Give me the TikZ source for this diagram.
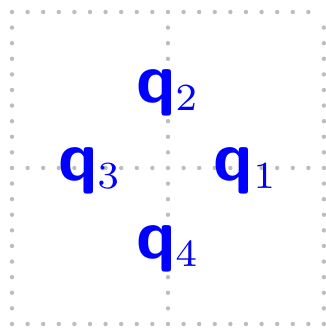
\documentclass[tikz,border=0pt]{standalone}
\usepackage{amsmath}
\usepackage{xcolor}
\usepackage{tikz}
\definecolor{C_LBL} {HTML}{0000FF}
\definecolor{C_GRID}{HTML}{BDBDBD}
\tikzset{
  %% -- dotted helper grid --
  Q/grid/.style={
    draw=C_GRID, line width=0.8pt, line cap=round,
    dash pattern=on 0pt off 2.8453pt
  },
  %% -- quadrant label --
  Q/lbl/.style={text=C_LBL, inner sep=0pt, font=\normalsize},
}
\newcommand{\qlbl}[1]{$\smash[b]{\text{\fontsize{12.8}{15}\selectfont\sffamily\bfseries q}}_{#1}$}

\begin{document}
\begin{tikzpicture}[x=1cm, y=1cm]
\useasboundingbox (-1.077,-1.026) rectangle (1.013,1.077);

%% Grid
\draw[Q/grid] (-1,-1) grid (1,1);

%% Labels
\node[Q/lbl] (q1) at (0.5, 0)  {\qlbl{1}};
\node[Q/lbl] (q2) at (0, 0.5)  {\qlbl{2}};
\node[Q/lbl] (q3) at (-0.5, 0) {\qlbl{3}};
\node[Q/lbl] (q4) at (0, -0.5) {\qlbl{4}};
\end{tikzpicture}
\end{document}
